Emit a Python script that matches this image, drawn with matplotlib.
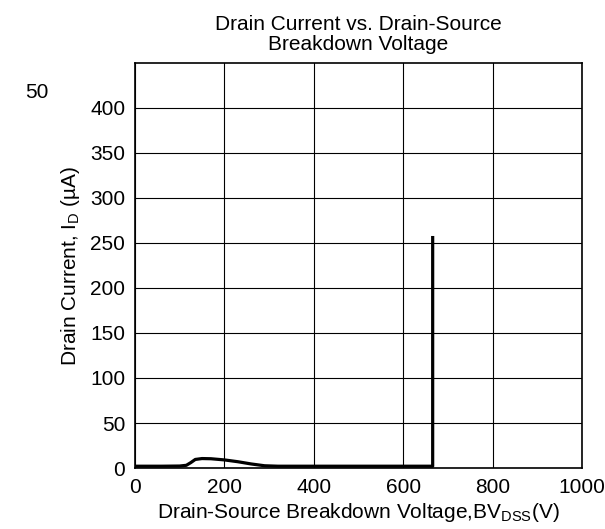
import matplotlib
matplotlib.use("Agg")
import matplotlib.pyplot as plt

# curva: V (V) x I (uA)
bv_v = [0, 60, 100, 115, 125, 135, 150, 170, 200, 230, 260, 290, 320, 400, 500, 600, 666, 666]
id_ua = [2.0, 2.0, 2.2, 3.0, 6.0, 9.5, 10.5, 10.3, 9.0, 7.0, 4.5, 2.5, 2.0, 2.0, 2.0, 2.0, 2.0, 256]

x_ticks = [0, 200, 400, 600, 800, 1000]
y_ticks = [0, 50, 100, 150, 200, 250, 300, 350, 400]

plt.rcParams["font.family"] = ["Liberation Sans", "DejaVu Sans"]

fig = plt.figure(figsize=(6.05, 5.29), dpi=100)
ax = fig.add_axes([0.223, 0.1153, 0.739, 0.7657])

ax.plot(bv_v, id_ua, color="black", lw=2.3, solid_joinstyle="round")

ax.set_xlim(0, 1000)
ax.set_ylim(0, 450)
ax.set_xticks(x_ticks)
ax.set_yticks(y_ticks)
ax.tick_params(length=0, labelsize=15, pad=7)
ax.grid(True, color="black", lw=0.8)
for s in ax.spines.values():
    s.set_linewidth(1.2)

ax.set_title("Drain Current vs. Drain-Source\nBreakdown Voltage", fontsize=15, pad=9,
             linespacing=1.1)
ax.set_xlabel("Drain-Source Breakdown Voltage,BV$_{\\mathregular{DSS}}$(V)", fontsize=15, labelpad=3)
ax.set_ylabel("Drain Current, I$_{\\mathregular{D}}$ (\u00b5A)", fontsize=15, labelpad=6)

# rotulo solto no canto superior esquerdo
fig.text(25 / 605, 1 - 93 / 529, "50", fontsize=15, va="center", ha="left")

fig.savefig("out.png", dpi=100)
